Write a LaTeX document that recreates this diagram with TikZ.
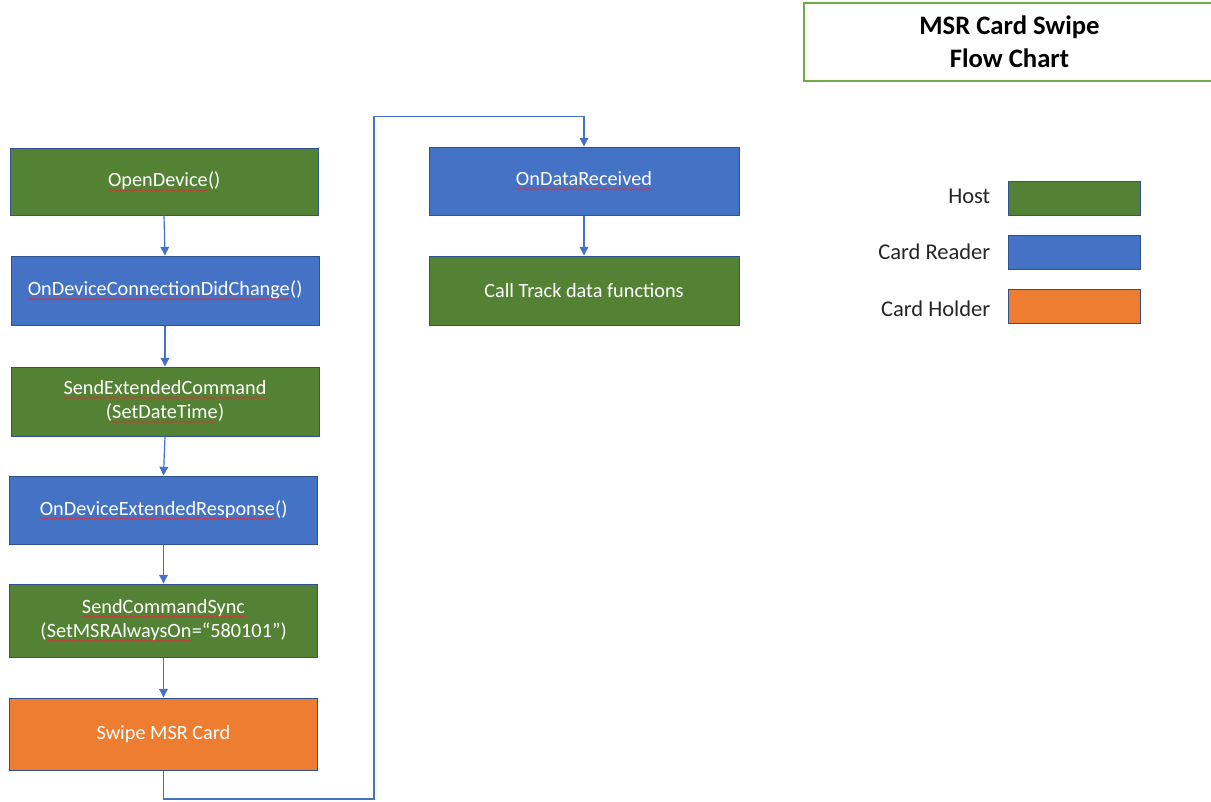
\documentclass[tikz,border=0pt]{standalone}
\usepackage{fontspec}
\setmainfont{Carlito}
\usetikzlibrary{arrows.meta,decorations.pathmorphing}
\definecolor{hostgreen}{HTML}{548235}
\definecolor{readerblue}{HTML}{4472C4}
\definecolor{holderorange}{HTML}{ED7D31}
\definecolor{edgeblue}{HTML}{2F528F}
\definecolor{titlegreen}{HTML}{70AD47}
\definecolor{squig}{HTML}{E0303A}
\newcommand\sq[1]{\tikz[baseline=(sqt.base)]{\node[rectangle, draw=none, fill=none, minimum width=0pt, minimum height=0pt, inner sep=0pt, outer sep=0pt, text=white] (sqt) {#1};
  \draw[draw=squig, line width=0.5pt, decorate, decoration={snake, amplitude=0.6pt, segment length=2.4pt}] ([yshift=-2.6pt]sqt.base west) -- ([yshift=-2.6pt]sqt.base east);}}
\tikzset{
  box/.style={rectangle, draw=edgeblue, line width=0.75pt, text=white, align=center,
    font=\fontsize{15.2}{18}\selectfont, inner sep=0pt},
  hostbox/.style={box, fill=hostgreen},
  readerbox/.style={box, fill=readerblue},
  holderbox/.style={box, fill=holderorange},
  legbox/.style={rectangle, draw=edgeblue, line width=0.75pt, minimum width=99pt, minimum height=25.5pt},
  leglabel/.style={anchor=east, font=\fontsize{16.9}{20}\selectfont, text=black!85},
  arr/.style={draw=readerblue, line width=0.9pt, -{Triangle[width=6.5pt,length=6.5pt]}},
}
\begin{document}
\begin{tikzpicture}[x=0.75pt,y=-0.75pt]
\useasboundingbox (0,0) rectangle (1211,801);
\fill[white] (0,0) rectangle (1211,801);

% title
\node[rectangle, draw=titlegreen, line width=1.1pt, minimum width=308.25pt, minimum height=58.5pt,
  align=center, font=\fontsize{20}{24.75}\selectfont\bfseries, inner sep=0pt]
  (title) at (1009.5,42) {MSR Card Swipe\\Flow Chart};

% left column
\node[hostbox, minimum width=231pt, minimum height=50.25pt] (open) at (164,181.5) {\sq{OpenDevice}()};
\node[readerbox, minimum width=231pt, minimum height=51.75pt] (conn) at (165,290.5) {\sq{OnDeviceConnectionDidChange}()};
\node[hostbox, minimum width=231pt, minimum height=51.75pt] (sendext) at (165,401.5) {\sq{SendExtendedCommand}\\(\sq{SetDateTime})};
\node[readerbox, minimum width=231pt, minimum height=51pt] (resp) at (163.5,510) {\sq{OnDeviceExtendedResponse}()};
\node[hostbox, minimum width=231pt, minimum height=54.75pt] (sync) at (163.5,620.5) {\sq{SendCommandSync}\\(\sq{SetMSRAlwaysOn}=“580101”)};
\node[holderbox, minimum width=231pt, minimum height=54pt] (swipe) at (163.5,734) {Swipe MSR Card};

% right column
\node[readerbox, minimum width=232.5pt, minimum height=51pt] (datarx) at (584,181) {\sq{OnDataReceived}};
\node[hostbox, minimum width=232.5pt, minimum height=51.75pt] (track) at (584,290.5) {Call Track data functions};

% connectors
\draw[arr] (open.south) -- (conn.north);
\draw[arr] (conn.south) -- (sendext.north);
\draw[arr] (sendext.south) -- (resp.north);
\draw[arr] (resp.south) -- (sync.north);
\draw[arr] (sync.south) -- (swipe.north);
\coordinate (c1) at (374,799);
\coordinate (c2) at (374,116.5);
\draw[arr] (swipe.south) |- (c1) -- (c2) -| (datarx.north);
\draw[arr] (datarx.south) -- (track.north);

% legend
\node[legbox, fill=hostgreen] (lhost) at (1074,198) {};
\node[legbox, fill=readerblue] (lreader) at (1074,252) {};
\node[legbox, fill=holderorange] (lholder) at (1074,306) {};
\node[leglabel] (thost) at (995,196) {Host};
\node[leglabel] (treader) at (995,252) {Card Reader};
\node[leglabel] (tholder) at (995,309) {Card Holder};
\end{tikzpicture}
\end{document}
